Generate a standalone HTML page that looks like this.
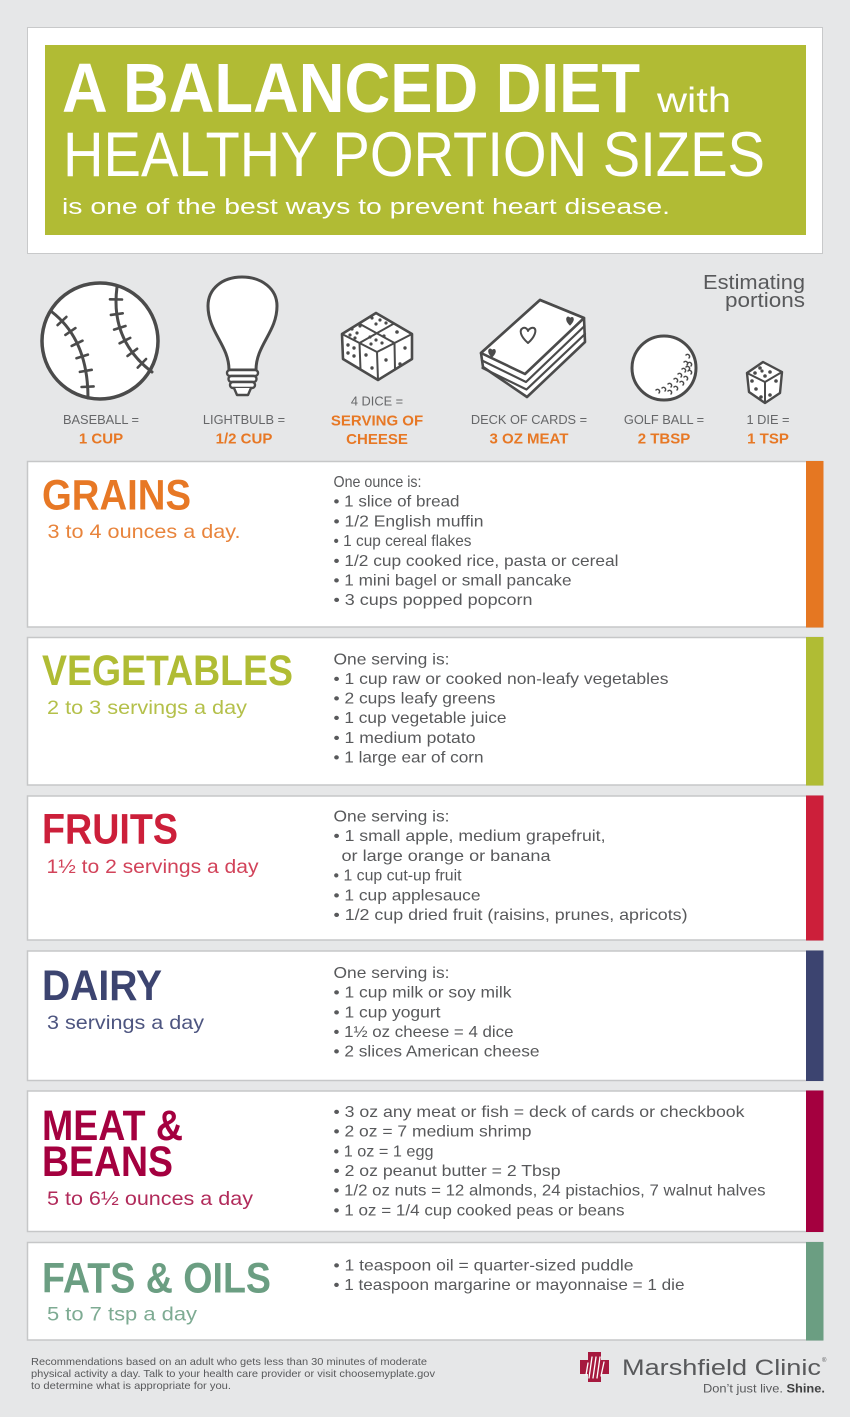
<!DOCTYPE html>
<html><head><meta charset="utf-8"><style>
html,body{margin:0;padding:0;background:#e6e7e8;}
svg{display:block;}
text{font-family:"Liberation Sans",sans-serif;}
.b{fill:#58595b;font-size:16px;}
.lb{fill:#666769;font-size:12.8px;}
.or{fill:#e77825;font-size:15px;font-weight:bold;}
.t{font-size:43px;font-weight:bold;}
.s{font-size:19.5px;}
</style></head><body>
<svg width="850" height="1417" viewBox="0 0 850 1417" xmlns="http://www.w3.org/2000/svg">
<rect x="0" y="0" width="850" height="1417" fill="#e6e7e8"/>
<!-- Header -->
<rect x="27.5" y="27.5" width="795" height="226" fill="#fff" stroke="#c8c9ca" stroke-width="1"/>
<rect x="45" y="45" width="761" height="190" fill="#b1bb34"/>
<text x="62" y="112" fill="#fff" font-size="70" font-weight="bold" textLength="578" lengthAdjust="spacingAndGlyphs">A BALANCED DIET</text>
<text x="657" y="112" fill="#fff" font-size="35" textLength="74" lengthAdjust="spacingAndGlyphs">with</text>
<text x="63" y="176" fill="#fff" font-size="63" textLength="702" lengthAdjust="spacingAndGlyphs">HEALTHY PORTION SIZES</text>
<text x="62" y="214" fill="#fff" font-size="22" textLength="608" lengthAdjust="spacingAndGlyphs">is one of the best ways to prevent heart disease.</text>

<!-- Estimating portions -->
<text x="805" y="289" text-anchor="end" fill="#58595b" font-size="20" textLength="102" lengthAdjust="spacingAndGlyphs">Estimating</text>
<text x="805" y="307" text-anchor="end" fill="#58595b" font-size="20" textLength="80" lengthAdjust="spacingAndGlyphs">portions</text>

<g stroke="#4b4b4b" fill="#fff" stroke-linecap="round" stroke-linejoin="round">
<!-- Baseball -->
<ellipse cx="100" cy="341" rx="58" ry="58" stroke-width="3.5" transform="rotate(-10 100 341)"/>
<path d="M52,312 Q88,340 88,398" fill="none" stroke-width="3"/>
<path d="M117,287 Q110,340 152,372" fill="none" stroke-width="3"/>
<g stroke-width="2.6" fill="none">
<line x1="57.6" y1="325.1" x2="66.4" y2="316.9"/>
<line x1="65.4" y1="334.9" x2="75.4" y2="328.1"/>
<line x1="71.7" y1="345.9" x2="82.5" y2="340.7"/>
<line x1="76.5" y1="358.2" x2="87.9" y2="354.6"/>
<line x1="79.9" y1="371.9" x2="91.7" y2="369.8"/>
<line x1="81.6" y1="387" x2="93.6" y2="386.4"/>
<line x1="110" y1="299.3" x2="122" y2="299.5"/>
<line x1="110.9" y1="314.9" x2="122.7" y2="313.3"/>
<line x1="114.1" y1="329.6" x2="125.5" y2="326"/>
<line x1="119.6" y1="343.3" x2="130.2" y2="337.9"/>
<line x1="127.5" y1="356" x2="137.1" y2="348.8"/>
<line x1="137.7" y1="367.6" x2="146.1" y2="359"/>
</g>
<!-- Lightbulb -->
<path d="M229,370 C229,345 208,332 208,306 C208,289 222,277 242,277 C262,277 277,289 277,306 C277,332 256,345 256,370 Z" stroke-width="3"/>
<rect x="227" y="370" width="31" height="6" rx="3" stroke-width="2.4"/>
<rect x="228.5" y="376" width="28" height="6" rx="3" stroke-width="2.4"/>
<rect x="230" y="382" width="25" height="6" rx="3" stroke-width="2.4"/>
<path d="M234,388 L237,395 L248,395 L251,388" stroke-width="2.4"/>
<!-- 4 dice -->
<path d="M376,313 L412,334 L412,359 L378,380 L343,359 L342,334 Z" stroke-width="2.6"/>
<path d="M342,334 L377,352 L412,334 M377,352 L378,380 M394,323.5 L359.5,343 M359,323.5 L394.5,343 M359.5,343 L360.5,369.5 M394.5,343 L395,369.5" fill="none" stroke-width="2"/>
<g fill="#4b4b4b" stroke="none">
<circle cx="372" cy="318" r="1.6"/><circle cx="380" cy="320" r="1.6"/><circle cx="386" cy="323" r="1.6"/><circle cx="376" cy="324" r="1.6"/>
<circle cx="352" cy="329" r="1.6"/><circle cx="357" cy="333" r="1.6"/><circle cx="350" cy="335" r="1.6"/><circle cx="360" cy="326" r="1.6"/><circle cx="355" cy="338" r="1.6"/>
<circle cx="397" cy="332" r="1.8"/>
<circle cx="370" cy="337" r="1.6"/><circle cx="376" cy="340" r="1.6"/><circle cx="382" cy="343" r="1.6"/><circle cx="371" cy="344" r="1.6"/><circle cx="384" cy="336" r="1.6"/>
<circle cx="348" cy="345" r="1.7"/><circle cx="348" cy="353" r="1.7"/><circle cx="354" cy="348" r="1.7"/><circle cx="354" cy="356" r="1.7"/>
<circle cx="366" cy="355" r="1.7"/><circle cx="372" cy="368" r="1.7"/>
<circle cx="386" cy="360" r="1.7"/>
<circle cx="405" cy="348" r="1.7"/><circle cx="400" cy="364" r="1.7"/>
</g>
<!-- Deck of cards -->
<path d="M481,353 L540,300 L584,318 L585,342 L527,397 L483,367 Z" stroke-width="2.6"/>
<path d="M482,360.5 L526,382 L584.5,326 M482.5,368 L526.5,389.5 L585,334" fill="none" stroke-width="2.2"/>
<path d="M481,353 L540,300 L584,318 L525,374 Z" stroke-width="2.6"/>
<path d="M528,343 C520,336 519,330 523,328 C526,327 528,330 528,331 C528,330 531,327 534,328 C537,330 535,337 528,343 Z" fill="none" stroke-width="2"/>
<path d="M570,325 C566,321 566,318 568,317 C569,317 570,318 570,319 C570,318 572,317 573,318 C574,320 573,322 570,325 Z" fill="#4b4b4b" stroke-width="1"/>
<path d="M492,357 C488,353 488,350 490,349 C491,349 492,350 492,351 C492,350 494,349 495,350 C496,352 495,354 492,357 Z" fill="#4b4b4b" stroke-width="1"/>
<!-- Golf ball -->
<circle cx="664" cy="368" r="32" stroke-width="3"/>
<g fill="none" stroke-width="1.5">
<path d="M686,355 a2,2 0 1 1 3,3"/><path d="M688,363 a2,2 0 1 1 3,3"/><path d="M684,362 a2,2 0 1 1 3,3"/>
<path d="M688,371 a2,2 0 1 1 3,3"/><path d="M682,369 a2,2 0 1 1 3,3"/><path d="M678,374 a2,2 0 1 1 3,3"/>
<path d="M684,377 a2,2 0 1 1 3,3"/><path d="M674,379 a2,2 0 1 1 3,3"/><path d="M680,382 a2,2 0 1 1 3,3"/>
<path d="M668,384 a2,2 0 1 1 3,3"/><path d="M674,387 a2,2 0 1 1 3,3"/><path d="M662,388 a2,2 0 1 1 3,3"/>
<path d="M656,390 a2,2 0 1 1 3,3"/><path d="M668,391 a2,2 0 1 1 3,3"/><path d="M686,367 a2,2 0 1 1 3,3"/>
</g>
<!-- Die -->
<path d="M763,362 L782,372 L780,393 L765,403 L749,392 L747,373 Z" stroke-width="2.4"/>
<path d="M747,373 L765,382 L782,372 M765,382 L765,403" fill="none" stroke-width="2"/>
<g fill="#4b4b4b" stroke="none">
<circle cx="760" cy="368" r="1.8"/><circle cx="770" cy="372" r="1.8"/><circle cx="755" cy="373" r="1.8"/><circle cx="765" cy="376" r="1.8"/><circle cx="762" cy="371" r="1.6"/>
<circle cx="752" cy="381" r="1.8"/><circle cx="761" cy="397" r="1.8"/><circle cx="756" cy="389" r="1.8"/>
<circle cx="776" cy="381" r="1.8"/><circle cx="770" cy="395" r="1.8"/>
</g>
</g>

<!-- Labels -->
<g text-anchor="middle">
<text class="lb" x="101" y="424">BASEBALL =</text>
<text class="or" x="101" y="443.5">1 CUP</text>
<text class="lb" x="244" y="424">LIGHTBULB =</text>
<text class="or" x="244" y="443.5">1/2 CUP</text>
<text class="lb" x="377" y="405.5">4 DICE =</text>
<text class="or" x="377" y="425.5">SERVING OF</text>
<text class="or" x="377" y="444">CHEESE</text>
<text class="lb" x="529" y="424">DECK OF CARDS =</text>
<text class="or" x="529" y="443.5">3 OZ MEAT</text>
<text class="lb" x="664" y="424">GOLF BALL =</text>
<text class="or" x="664" y="443.5">2 TBSP</text>
<text class="lb" x="768" y="424">1 DIE =</text>
<text class="or" x="768" y="443.5">1 TSP</text>
</g>

<!-- Cards -->
<g fill="#fff" stroke="#c6c7c8" stroke-width="1.5">
<rect x="27.5" y="461.5" width="795" height="165.5"/>
<rect x="27.5" y="637.5" width="795" height="147.5"/>
<rect x="27.5" y="796" width="795" height="144"/>
<rect x="27.5" y="951" width="795" height="129.5"/>
<rect x="27.5" y="1091" width="795" height="140.5"/>
<rect x="27.5" y="1242.5" width="795" height="97.5"/>
</g>
<rect x="806" y="461" width="17.5" height="166.5" fill="#e57722"/>
<rect x="806" y="637" width="17.5" height="148.5" fill="#b0bc34"/>
<rect x="806" y="795.5" width="17.5" height="145" fill="#cc1f3a"/>
<rect x="806" y="950.5" width="17.5" height="130.5" fill="#3c4470"/>
<rect x="806" y="1090.5" width="17.5" height="141.5" fill="#a4003f"/>
<rect x="806" y="1242" width="17.5" height="98.5" fill="#6b9e82"/>

<!-- GRAINS -->
<text class="t" x="42" y="509.5" fill="#e77825" textLength="149" lengthAdjust="spacingAndGlyphs">GRAINS</text>
<text class="s" x="47.5" y="538" fill="#e8843c" textLength="193" lengthAdjust="spacingAndGlyphs">3 to 4 ounces a day.</text>
<text class="b" x="333.5" y="487" textLength="88" lengthAdjust="spacingAndGlyphs">One ounce is:</text>
<text class="b" x="333.5" y="506.7" textLength="126" lengthAdjust="spacingAndGlyphs">• 1 slice of bread</text>
<text class="b" x="333.5" y="526.4" textLength="150" lengthAdjust="spacingAndGlyphs">• 1/2 English muffin</text>
<text class="b" x="333.5" y="546.1" textLength="138" lengthAdjust="spacingAndGlyphs">• 1 cup cereal flakes</text>
<text class="b" x="333.5" y="565.8" textLength="285" lengthAdjust="spacingAndGlyphs">• 1/2 cup cooked rice, pasta or cereal</text>
<text class="b" x="333.5" y="585.5" textLength="238" lengthAdjust="spacingAndGlyphs">• 1 mini bagel or small pancake</text>
<text class="b" x="333.5" y="605.2" textLength="199" lengthAdjust="spacingAndGlyphs">• 3 cups popped popcorn</text>

<!-- VEGETABLES -->
<text class="t" x="42" y="685" fill="#b0bc34" textLength="251" lengthAdjust="spacingAndGlyphs">VEGETABLES</text>
<text class="s" x="47" y="714" fill="#b4c04a" textLength="200" lengthAdjust="spacingAndGlyphs">2 to 3 servings a day</text>
<text class="b" x="333.5" y="664.3" textLength="116" lengthAdjust="spacingAndGlyphs">One serving is:</text>
<text class="b" x="333.5" y="683.8" textLength="335" lengthAdjust="spacingAndGlyphs">• 1 cup raw or cooked non-leafy vegetables</text>
<text class="b" x="333.5" y="703.5" textLength="162" lengthAdjust="spacingAndGlyphs">• 2 cups leafy greens</text>
<text class="b" x="333.5" y="723.2" textLength="173" lengthAdjust="spacingAndGlyphs">• 1 cup vegetable juice</text>
<text class="b" x="333.5" y="742.9" textLength="142" lengthAdjust="spacingAndGlyphs">• 1 medium potato</text>
<text class="b" x="333.5" y="762.6" textLength="150" lengthAdjust="spacingAndGlyphs">• 1 large ear of corn</text>

<!-- FRUITS -->
<text class="t" x="42" y="843.5" fill="#cc1f3a" textLength="136" lengthAdjust="spacingAndGlyphs">FRUITS</text>
<text class="s" x="46.5" y="873" fill="#d2435a" textLength="212" lengthAdjust="spacingAndGlyphs">1½ to 2 servings a day</text>
<text class="b" x="333.5" y="821.5" textLength="116" lengthAdjust="spacingAndGlyphs">One serving is:</text>
<text class="b" x="333.5" y="841.2" textLength="272" lengthAdjust="spacingAndGlyphs">• 1 small apple, medium grapefruit,</text>
<text class="b" x="341.5" y="860.9" textLength="209" lengthAdjust="spacingAndGlyphs">or large orange or banana</text>
<text class="b" x="333.5" y="880.6" textLength="128" lengthAdjust="spacingAndGlyphs">• 1 cup cut-up fruit</text>
<text class="b" x="333.5" y="900.3" textLength="147" lengthAdjust="spacingAndGlyphs">• 1 cup applesauce</text>
<text class="b" x="333.5" y="920" textLength="354" lengthAdjust="spacingAndGlyphs">• 1/2 cup dried fruit (raisins, prunes, apricots)</text>

<!-- DAIRY -->
<text class="t" x="42" y="1000" fill="#3c4470" textLength="120" lengthAdjust="spacingAndGlyphs">DAIRY</text>
<text class="s" x="47" y="1029" fill="#4d5580" textLength="157" lengthAdjust="spacingAndGlyphs">3 servings a day</text>
<text class="b" x="333.5" y="978" textLength="116" lengthAdjust="spacingAndGlyphs">One serving is:</text>
<text class="b" x="333.5" y="997.7" textLength="178" lengthAdjust="spacingAndGlyphs">• 1 cup milk or soy milk</text>
<text class="b" x="333.5" y="1017.3" textLength="107" lengthAdjust="spacingAndGlyphs">• 1 cup yogurt</text>
<text class="b" x="333.5" y="1037" textLength="180" lengthAdjust="spacingAndGlyphs">• 1½ oz cheese = 4 dice</text>
<text class="b" x="333.5" y="1056.7" textLength="206" lengthAdjust="spacingAndGlyphs">• 2 slices American cheese</text>

<!-- MEAT & BEANS -->
<text class="t" x="42" y="1140" fill="#a4003f" textLength="141" lengthAdjust="spacingAndGlyphs">MEAT &amp;</text>
<text class="t" x="42" y="1176" fill="#a4003f" textLength="131" lengthAdjust="spacingAndGlyphs">BEANS</text>
<text class="s" x="47" y="1205" fill="#b12a5a" textLength="206" lengthAdjust="spacingAndGlyphs">5 to 6½ ounces a day</text>
<text class="b" x="333.5" y="1117" textLength="411" lengthAdjust="spacingAndGlyphs">• 3 oz any meat or fish = deck of cards or checkbook</text>
<text class="b" x="333.5" y="1136.7" textLength="198" lengthAdjust="spacingAndGlyphs">• 2 oz = 7 medium shrimp</text>
<text class="b" x="333.5" y="1156.3" textLength="100" lengthAdjust="spacingAndGlyphs">• 1 oz = 1 egg</text>
<text class="b" x="333.5" y="1176" textLength="227" lengthAdjust="spacingAndGlyphs">• 2 oz peanut butter = 2 Tbsp</text>
<text class="b" x="333.5" y="1195.7" textLength="432" lengthAdjust="spacingAndGlyphs">• 1/2 oz nuts = 12 almonds, 24 pistachios, 7 walnut halves</text>
<text class="b" x="333.5" y="1215.3" textLength="291" lengthAdjust="spacingAndGlyphs">• 1 oz = 1/4 cup cooked peas or beans</text>

<!-- FATS & OILS -->
<text class="t" x="42" y="1292.7" fill="#6b9e82" textLength="229" lengthAdjust="spacingAndGlyphs">FATS &amp; OILS</text>
<text class="s" x="47" y="1320.5" fill="#7eab93" textLength="150" lengthAdjust="spacingAndGlyphs">5 to 7 tsp a day</text>
<text class="b" x="333.5" y="1270.3" textLength="300" lengthAdjust="spacingAndGlyphs">• 1 teaspoon oil = quarter-sized puddle</text>
<text class="b" x="333.5" y="1290" textLength="351" lengthAdjust="spacingAndGlyphs">• 1 teaspoon margarine or mayonnaise = 1 die</text>

<!-- Footer -->
<g fill="#58595b" font-size="10.2">
<text x="31" y="1365" textLength="396" lengthAdjust="spacingAndGlyphs">Recommendations based on an adult who gets less than 30 minutes of moderate</text>
<text x="31" y="1377" textLength="404" lengthAdjust="spacingAndGlyphs">physical activity a day. Talk to your health care provider or visit choosemyplate.gov</text>
<text x="31" y="1389" textLength="200" lengthAdjust="spacingAndGlyphs">to determine what is appropriate for you.</text>
</g>
<!-- Logo -->
<path d="M588,1352 H601 V1360 H609 V1374 H601 V1382 H588 V1374 H580 V1360 H588 Z" fill="#a6193e"/>
<g stroke="#fff" stroke-width="1.3" fill="none" stroke-linecap="round">
<path d="M588,1363 L586,1375"/><path d="M592,1357 L589,1378"/><path d="M596,1357 L593,1378"/><path d="M600,1357 L597,1378"/><path d="M604,1362 L601,1376"/>
</g>
<text x="622" y="1375" fill="#58595b" font-size="22" textLength="199" lengthAdjust="spacingAndGlyphs">Marshfield Clinic</text>
<text x="822" y="1362" fill="#58595b" font-size="6">®</text>
<text x="825" y="1392.5" text-anchor="end" fill="#58595b" font-size="11.8" textLength="122" lengthAdjust="spacingAndGlyphs">Don’t just live. <tspan font-weight="bold" fill="#404142">Shine.</tspan></text>
</svg>
</body></html>
